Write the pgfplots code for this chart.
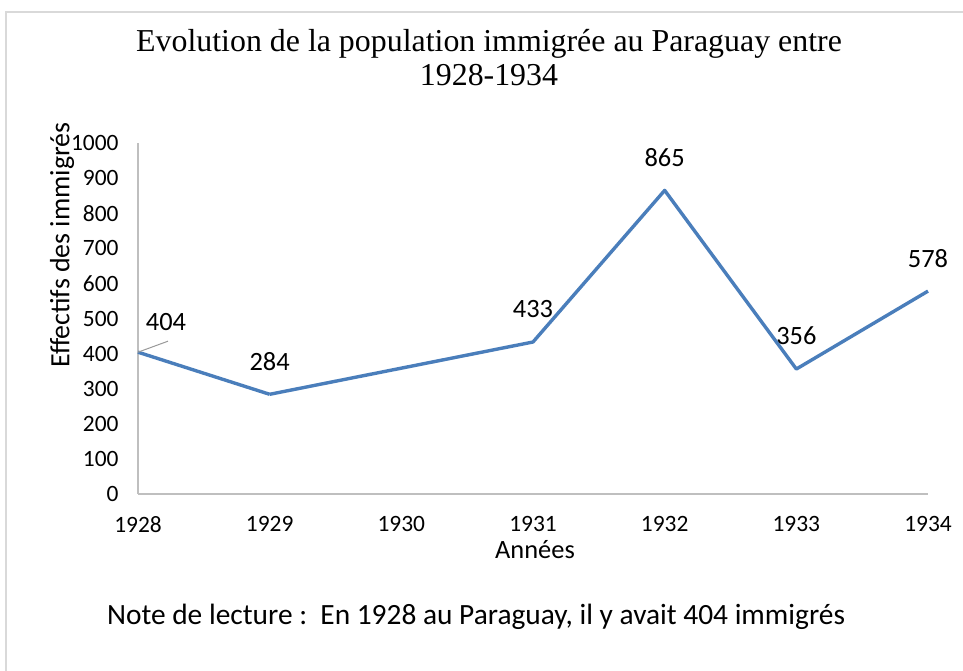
\documentclass[border=0pt]{standalone}
\usepackage{pgfplots}
\pgfplotsset{compat=1.18}
\usepackage{fontspec}
\setmainfont{Carlito}
\newfontfamily\titlefont{Liberation Serif}
\definecolor{lineblue}{RGB}{74,126,187}
\definecolor{axisgray}{RGB}{191,191,191}
\definecolor{framegray}{RGB}{217,217,217}
\begin{document}
\begin{tikzpicture}[x=1bp,y=1bp]
\path[use as bounding box] (0,0) rectangle (963,671);
\draw[framegray, line width=1.5bp] (6,-5) -- (6,659) -- (975,659);
\node[font=\titlefont\fontsize{32}{34}\selectfont, align=center] at (489,613) {Evolution de la population immigrée au Paraguay entre\\1928-1934};
\node[rotate=90, font=\fontsize{28}{30}\selectfont] at (62,426) {Effectifs des immigrés};
\node[font=\fontsize{26.5}{30}\selectfont] at (535,121) {Années};
\node[font=\fontsize{29.5}{32}\selectfont] at (476,54) {Note de lecture :\ \ En 1928 au Paraguay, il y avait 404 immigrés};
\begin{axis}[
  at={(138bp,177bp)}, anchor=south west,
  scale only axis, width=790bp, height=351bp,
  xmin=1928, xmax=1934, ymin=0, ymax=1000,
  axis lines=left,
  axis line style={-, draw=axisgray, line width=1.5bp},
  major tick length=0pt,
  xtick={1928,1929,1930,1931,1932,1933,1934},
  ytick={0,100,...,1000},
  /pgf/number format/assume math mode=true,
  /pgf/number format/1000 sep={},
  tick label style={font=\fontsize{23.5}{27}\selectfont},
  xticklabel style={yshift=-19bp},
  yticklabel style={xshift=-16bp},
  clip=false,
  every node near coord/.append style={font=\fontsize{26.5}{30}\selectfont, anchor=center, text=black},
]
\addplot[lineblue, line width=3.4bp, line join=round,
  nodes near coords,
  every node near coord/.append style={yshift=33bp}]
  coordinates {(1929,284) (1931,433) (1932,865) (1933,356) (1934,578)};
\addplot[lineblue, line width=3.4bp, forget plot]
  coordinates {(1928,404) (1929,284)};
\draw[gray!80, line width=1bp] (axis cs:1928,404) -- ++(30bp,11bp);
\addplot[draw=none, nodes near coords,
  every node near coord/.append style={xshift=28bp, yshift=30bp}]
  coordinates {(1928,404)};
\end{axis}
\end{tikzpicture}
\end{document}
